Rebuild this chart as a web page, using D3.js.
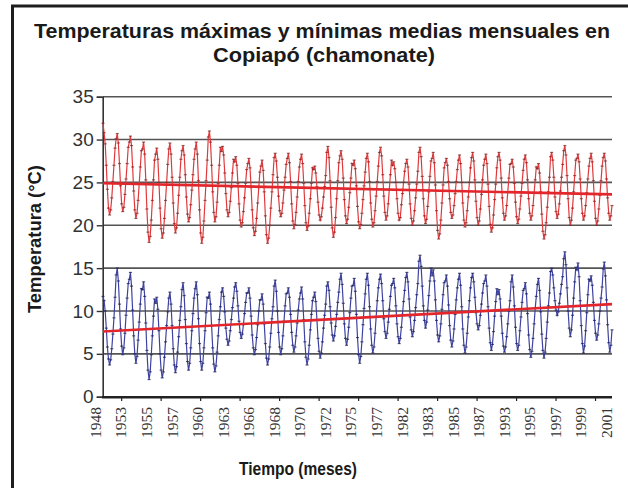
<html>
<head>
<script src="https://d3js.org/d3.v7.min.js"></script>
<style>
body { margin: 0; background: #fff; }
</style>
</head>
<body>
<div id="chart"></div>
<script>

const red = "#e2262c";
const lineRed = "#e0393b";
const blue = "#3e42a0";
const darkgray = "#333";
const gridgray = "#555";

// monthly mean maximum temperature, 12 values per year (last year Jan-Sep)
var maxTemps = [
  31.9,30.8,29.5,27.0,24.2,22.0,21.2,21.8,23.2,25.1,27.0,29.0,
  30.1,30.7,29.6,27.2,24.6,22.5,21.6,22.1,23.6,25.4,27.2,29.1,
  29.7,30.4,29.3,26.8,24.0,21.8,20.8,21.4,22.9,24.8,26.8,28.7,
  28.9,29.7,28.3,25.3,21.9,19.2,18.0,18.7,20.6,22.9,25.3,27.6,
  28.3,29.0,27.7,25.0,22.0,19.6,18.5,19.1,20.8,22.9,25.0,27.1,
  28.9,29.6,28.3,25.6,22.6,20.2,19.1,19.7,21.4,23.5,25.6,27.7,
  28.7,29.3,28.2,25.9,23.3,21.3,20.4,20.9,22.4,24.1,25.9,27.7,
  28.9,29.7,28.3,25.2,21.8,19.1,17.9,18.6,20.5,22.9,25.2,27.6,
  30.3,31.0,29.7,27.0,23.9,21.5,20.4,21.0,22.7,24.9,27.0,29.1,
  28.6,29.2,28.2,26.1,23.7,21.8,21.0,21.5,22.8,24.4,26.1,27.7,
  27.4,28.0,27.0,24.9,22.5,20.6,19.8,20.3,21.6,23.2,24.9,26.5,
  27.2,27.8,26.7,24.4,21.8,19.7,18.8,19.3,20.8,22.6,24.4,26.2,
  26.9,27.6,26.4,23.9,21.1,18.9,17.9,18.5,20.0,22.0,23.9,25.9,
  27.9,28.4,27.5,25.6,23.4,21.7,21.0,21.4,22.6,24.1,25.6,27.1,
  27.8,28.4,27.3,25.1,22.5,20.5,19.6,20.1,21.5,23.3,25.1,26.8,
  27.7,28.3,27.2,24.9,22.3,20.3,19.4,19.9,21.4,23.1,24.9,26.7,
  26.5,26.9,26.1,24.5,22.7,21.2,20.6,21.0,22.0,23.3,24.5,25.8,
  28.5,29.2,27.9,25.2,22.1,19.7,18.6,19.2,20.9,23.1,25.2,27.3,
  28.1,28.7,27.7,25.5,23.0,21.1,20.2,20.7,22.1,23.8,25.5,27.2,
  27.0,27.6,26.6,24.6,22.2,20.4,19.6,20.1,21.4,23.0,24.6,26.2,
  27.8,28.4,27.4,25.1,22.6,20.7,19.8,20.3,21.7,23.4,25.1,26.9,
  28.5,29.1,28.1,25.9,23.4,21.5,20.6,21.1,22.5,24.2,25.9,27.6,
  27.0,27.4,26.6,25.0,23.1,21.4,20.6,20.9,22.4,23.7,25.0,26.3,
  27.2,27.7,26.8,24.8,22.5,20.8,20.0,20.5,21.7,23.2,24.8,26.3,
  28.5,29.1,28.0,25.7,23.1,21.1,20.2,20.7,22.2,23.9,25.7,27.5,
  27.8,28.5,27.3,24.7,21.7,19.4,18.4,19.0,20.6,22.6,24.7,26.7,
  27.3,27.8,27.0,25.1,23.1,21.5,20.8,21.2,22.3,23.7,25.1,26.5,
  27.6,28.2,27.2,25.0,22.6,20.6,19.8,20.3,21.7,23.3,25.0,26.7,
  27.9,28.5,27.5,25.3,22.8,20.9,20.0,20.5,21.9,23.6,25.3,27.0,
  27.7,28.3,27.2,24.8,22.2,20.1,19.2,19.7,21.2,23.0,24.8,26.7,
  28.0,28.5,27.6,25.5,23.2,21.4,20.6,21.1,22.3,23.9,25.5,27.1,
  27.2,27.7,26.8,24.9,22.7,21.0,20.2,20.7,21.9,23.4,24.9,26.4,
  27.7,28.2,27.3,25.3,23.1,21.4,20.6,21.1,22.3,23.8,25.3,26.8,
  26.6,27.2,26.1,23.9,21.3,19.3,18.4,18.9,20.3,22.1,23.9,25.6,
  28.0,28.5,27.6,25.6,23.3,21.6,20.8,21.3,22.5,24.0,25.6,27.1,
  28.7,29.3,28.2,25.8,23.1,20.9,20.0,20.6,22.0,23.9,25.8,27.6,
  27.8,28.3,27.4,25.4,23.1,21.4,20.6,21.1,22.3,23.8,25.4,26.9,
  27.8,28.4,27.4,25.2,22.8,20.8,20.0,20.5,21.9,23.5,25.2,26.9,
  27.9,28.4,27.5,25.4,23.2,21.4,20.6,21.1,22.3
];

// monthly mean minimum temperature, same months
var minTemps = [
  11.7,11.2,10.0,8.0,5.8,4.4,3.7,4.3,5.6,7.3,9.2,11.6,
  14.2,15.0,13.5,10.8,7.9,5.9,4.9,5.7,7.4,9.5,11.5,13.2,
  13.7,14.5,12.9,10.1,7.1,5.0,3.9,4.7,6.6,8.7,10.8,12.6,
  12.5,13.4,11.7,8.6,5.4,3.1,2.0,2.9,4.9,7.1,9.4,11.4,
  10.9,11.6,10.2,7.7,5.0,3.1,2.2,2.9,4.6,6.4,8.3,9.9,
  11.5,12.2,10.8,8.3,5.6,3.7,2.8,3.5,5.2,7.0,8.9,10.5,
  12.5,13.3,11.8,9.0,6.2,4.1,3.1,3.9,5.7,7.7,9.7,11.5,
  12.6,13.4,11.9,9.1,6.2,4.1,3.1,3.9,5.7,7.7,9.8,11.6,
  11.5,12.2,10.8,8.3,5.7,3.8,2.9,3.6,5.2,7.1,9.0,10.5,
  12.2,12.7,11.7,9.9,8.0,6.7,6.0,6.5,7.7,9.0,10.4,11.5,
  12.8,13.3,12.3,10.6,8.8,7.5,6.8,7.3,8.4,9.7,11.0,12.1,
  12.1,12.7,11.5,9.4,7.2,5.7,4.9,5.5,6.9,8.4,10.0,11.3,
  11.3,12.0,10.8,8.5,6.2,4.5,3.7,4.4,5.8,7.4,9.1,10.5,
  12.9,13.6,12.3,10.0,7.5,5.8,4.9,5.6,7.1,8.8,10.6,12.0,
  12.1,12.7,11.6,9.6,7.5,6.0,5.2,5.8,7.1,8.6,10.1,11.4,
  12.1,12.8,11.4,9.0,6.4,4.6,3.7,4.4,6.0,7.8,9.6,11.2,
  11.6,12.2,11.1,9.0,6.8,5.3,4.5,5.1,6.4,8.0,9.5,10.8,
  12.9,13.4,12.4,10.5,8.6,7.2,6.5,7.1,8.2,9.6,11.0,12.2,
  13.7,14.4,13.1,10.9,8.5,6.8,6.0,6.7,8.1,9.8,11.5,12.9,
  13.0,13.8,12.3,9.6,6.9,4.9,3.9,4.7,6.4,8.4,10.3,12.0,
  13.7,14.4,13.0,10.5,7.9,6.0,5.1,5.8,7.4,9.3,11.2,12.7,
  13.7,14.3,13.2,11.2,9.1,7.6,6.8,7.4,8.7,10.2,11.7,13.0,
  13.2,13.8,12.7,10.6,8.5,7.0,6.2,6.8,8.1,9.6,11.1,12.4,
  13.9,14.5,13.4,11.4,9.3,7.8,7.0,7.6,8.9,10.4,11.9,13.2,
  15.8,16.5,15.2,12.9,10.6,8.9,8.0,8.7,10.1,11.8,13.5,15.0,
  14.1,14.8,13.5,11.3,8.9,7.2,6.4,7.1,8.5,10.2,11.9,13.3,
  13.5,14.2,12.9,10.7,8.3,6.6,5.8,6.5,7.9,9.6,11.3,12.7,
  13.7,14.4,13.0,10.5,7.9,6.0,5.1,5.8,7.4,9.3,11.2,12.7,
  13.9,14.4,13.4,11.6,9.8,8.5,7.8,8.3,9.5,10.8,12.1,13.2,
  13.5,14.2,12.9,10.5,8.0,6.3,5.4,6.1,7.6,9.4,11.1,12.6,
  11.9,12.5,11.4,9.4,7.4,5.9,5.2,5.8,7.0,8.5,10.0,11.2,
  13.4,14.2,12.8,10.6,8.1,6.2,5.4,6.0,7.7,9.3,11.0,12.4,
  12.6,13.3,12.0,9.7,7.2,5.5,4.6,5.3,6.8,8.5,10.3,11.7,
  13.1,13.8,12.4,9.9,7.3,5.4,4.5,5.2,6.8,8.7,10.6,12.1,
  14.6,15.0,14.2,12.7,11.2,10.1,9.5,9.9,10.9,12.0,13.1,14.0,
  16.1,16.9,15.4,12.7,10.0,8.0,7.0,7.8,9.5,11.5,13.4,15.1,
  14.8,15.6,14.0,11.2,8.3,6.2,5.1,5.9,7.7,9.8,11.9,13.7,
  13.5,14.1,13.0,11.0,8.9,7.4,6.6,7.2,8.5,10.0,11.5,12.8,
  14.9,15.7,14.1,11.3,8.4,6.3,5.2,6.0,7.8
];

// linear trends, value at first and last month
var trendMax = [24.9, 23.6];
var trendMin = [7.6, 10.8];

var yearLabels = ["1948","1953","1955","1957","1960","1963","1966","1968","1970","1972","1975",
                  "1977","1982","1983","1985","1987","1993","1995","1997","1999","2001"];
var yTicks = [0, 5, 10, 15, 20, 25, 30, 35];

var n = maxTemps.length;

var svg = d3.select("#chart").append("svg")
            .attr("width", 628)
            .attr("height", 488);

svg.append("rect")
   .attr("x", 0).attr("y", 0)
   .attr("width", 628).attr("height", 488)
   .attr("fill", "#fff");

// frame round the figure (runs off the right and bottom edge)
svg.append("rect")
   .attr("x", 12.5).attr("y", 6)
   .attr("width", 640).attr("height", 500)
   .attr("fill", "none")
   .attr("stroke", "#1e1e1e")
   .attr("stroke-width", 3);

var x = d3.scaleLinear().domain([0, n - 1]).range([103, 612]);
var y = d3.scaleLinear().domain([0, 35]).range([396.7, 96.7]);
var xLab = d3.scalePoint().domain(yearLabels).range([95.5, 606.5]);

// gridlines
svg.append("g")
   .selectAll("line")
   .data(yTicks.filter(function(d) { return d > 0; }))
   .enter()
   .append("line")
   .attr("x1", 103)
   .attr("x2", 612)
   .attr("y1", function(d) { return y(d); })
   .attr("y2", function(d) { return y(d); })
   .attr("stroke", gridgray)
   .attr("stroke-width", 1.6);

// y axis
var yAxis = svg.append("g")
   .attr("transform", "translate(102.7,0)")
   .call(d3.axisLeft(y).tickValues(yTicks).tickSize(6).tickPadding(3));
yAxis.select(".domain").attr("stroke", darkgray).attr("stroke-width", 1.6);
yAxis.selectAll(".tick line").attr("stroke", darkgray).attr("stroke-width", 1.4);
yAxis.selectAll(".tick text")
     .attr("font-family", "'Liberation Sans', Arial, sans-serif")
     .attr("font-size", "19px")
     .attr("fill", darkgray);

var line = d3.line()
             .x(function(d, i) { return x(i); })
             .y(function(d) { return y(d); });

function drawSeries(values, color, markColor) {
  svg.append("path")
     .datum(values)
     .attr("d", line)
     .attr("fill", "none")
     .attr("stroke", color)
     .attr("stroke-width", 1.2);
  svg.append("g")
     .selectAll("rect")
     .data(values)
     .enter()
     .append("rect")
     .attr("x", function(d, i) { return x(i) - 1.5; })
     .attr("y", function(d) { return y(d) - 0.6; })
     .attr("width", 3)
     .attr("height", 1.2)
     .attr("fill", markColor)
     .attr("opacity", 0.75);
}

drawSeries(maxTemps, lineRed, "#7a2a2a");
drawSeries(minTemps, blue, "#1f2250");

// trend lines
function drawTrend(ends) {
  svg.append("line")
     .attr("x1", x(0))
     .attr("y1", y(ends[0]))
     .attr("x2", x(n - 1))
     .attr("y2", y(ends[1]))
     .attr("stroke", red)
     .attr("stroke-width", 2.6);
}
drawTrend(trendMax);
drawTrend(trendMin);

// x axis
svg.append("line")
   .attr("x1", 102).attr("x2", 612)
   .attr("y1", 397.2).attr("y2", 397.2)
   .attr("stroke", "#222")
   .attr("stroke-width", 2.6);

svg.append("g")
   .selectAll("line")
   .data(d3.range(17, n, 36))
   .enter()
   .append("line")
   .attr("x1", function(d) { return x(d); })
   .attr("x2", function(d) { return x(d); })
   .attr("y1", 397)
   .attr("y2", 401)
   .attr("stroke", "#222")
   .attr("stroke-width", 1.2);

svg.append("g")
   .selectAll("text")
   .data(yearLabels)
   .enter()
   .append("text")
   .attr("transform", function(d) { return "translate(" + xLab(d) + ",407) rotate(-90)"; })
   .attr("dy", "0.35em")
   .attr("text-anchor", "end")
   .attr("font-family", "'Liberation Serif', 'Times New Roman', serif")
   .attr("font-size", "15.5px")
   .attr("fill", darkgray)
   .text(function(d) { return d; });

// titles, fitted to the width of the condensed face in the original
var titleFont = "'Liberation Sans', Arial, sans-serif";

function boldText(txt, size, width) {
  return svg.append("text")
            .attr("text-anchor", "middle")
            .attr("font-family", titleFont)
            .attr("font-weight", "bold")
            .attr("font-size", size)
            .attr("fill", "#1a1a1a")
            .attr("textLength", width)
            .attr("lengthAdjust", "spacingAndGlyphs")
            .text(txt);
}

boldText("Temperaturas máximas y mínimas medias mensuales en", "20.5px", 576)
  .attr("x", 322).attr("y", 38);
boldText("Copiapó (chamonate)", "20.5px", 222)
  .attr("x", 324).attr("y", 62);
boldText("Temperatura (°C)", "18px", 148)
  .attr("transform", "translate(41,239) rotate(-90)");
boldText("Tiempo (meses)", "18px", 118)
  .attr("x", 298).attr("y", 475);

</script>
</body>
</html>
